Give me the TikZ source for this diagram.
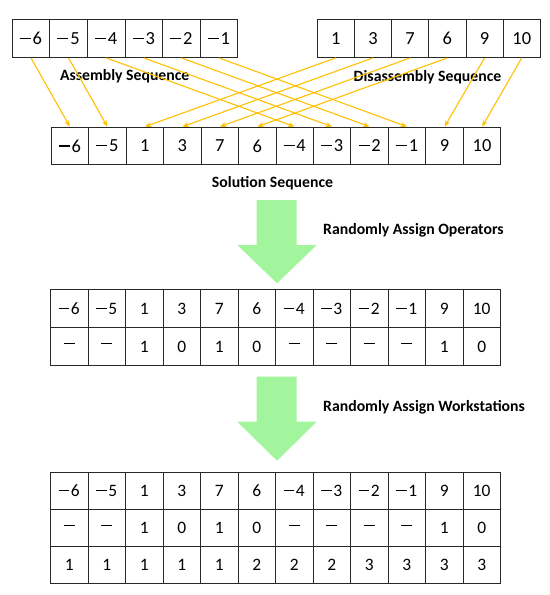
\documentclass[tikz,border=0pt]{standalone}
\usepackage{fontspec}
\setmainfont{Carlito}
\usetikzlibrary{arrows.meta}
\definecolor{gold}{RGB}{255,192,0}
\definecolor{lgreen}{RGB}{163,245,157}
\definecolor{cellline}{RGB}{40,40,40}
\newcommand\mn{\rule[0.3em]{0.6em}{0.065em}\kern0.1em}
\newcommand\dsh{\rule[0.3em]{0.64em}{0.065em}}
\tikzset{
  cellA/.style={draw=cellline,line width=0.9bp,minimum width=37.6bp,minimum height=38bp,inner sep=0,anchor=north west,font=\fontsize{18.5}{20}\selectfont},
  cellD/.style={cellA,minimum width=37.2bp},
  cellS/.style={cellA,minimum width=37.47bp,minimum height=37.6bp},
  cellM/.style={cellA,minimum width=37.5bp,minimum height=37.85bp,font=\fontsize{17.5}{19}\selectfont},
  cellB/.style={cellM,minimum height=37.2bp},
  lbl/.style={inner sep=0,font=\fontsize{15.8}{18}\bfseries\selectfont},
  link/.style={draw=gold,line width=1.1bp,-{Stealth[length=6.5bp,width=5bp]}},
  bigarrow/.style={fill=lgreen,draw=none}
}
\begin{document}
\begin{tikzpicture}[x=1bp,y=-1bp]
\useasboundingbox (0,0) rectangle (550,595);
% top arrays
\foreach \v [count=\i] in {\mn6,\mn5,\mn4,\mn3,\mn2,\mn1}
  \node[cellA] (a\i) at ({11.7+37.6*(\i-1)},19) {\v};
\foreach \v [count=\i] in {1,3,7,6,9,10}
  \node[cellD] (d\i) at ({316.7+37.2*(\i-1)},19) {\v};
% solution sequence
\foreach \v [count=\i] in {\mn6,\mn5,1,3,7,6,\mn4,\mn3,\mn2,\mn1,9,10}
  \node[cellS] (s\i) at ({50.7+37.47*(\i-1)},126.7) {\v};
\node[lbl] (la) at (124.7,76.7) {Assembly Sequence};
\node[lbl] (ld) at (427.5,77) {Disassembly Sequence};
\node[lbl] (ls) at (272.5,183.3) {Solution Sequence};
% links
\draw[link] (a1.south) -- (s1.north);
\draw[link] (a2.south) -- (s2.north);
\draw[link] (a3.south) -- (s7.north);
\draw[link] (a4.south) -- (s8.north);
\draw[link] (a5.south) -- (s9.north);
\draw[link] (a6.south) -- (s10.north);
\draw[link] (d1.south) -- (s3.north);
\draw[link] (d2.south) -- (s4.north);
\draw[link] (d3.south) -- (s5.north);
\draw[link] (d4.south) -- (s6.north);
\draw[link] (d5.south) -- (s11.north);
\draw[link] (d6.south) -- (s12.north);
% green arrow 1
\fill[bigarrow] (256.7,200) -- (296.7,200) -- (296.7,245) -- (316.7,245) -- (277,283.3) -- (237.3,245) -- (256.7,245) -- cycle;
\node[lbl,anchor=west] (lo) at (323,230) {Randomly Assign Operators};
% middle table
\foreach \v [count=\i] in {\mn6,\mn5,1,3,7,6,\mn4,\mn3,\mn2,\mn1,9,10}
  \node[cellM] (m\i) at ({50+37.5*(\i-1)},289.3) {\v};
\foreach \v [count=\i] in {\dsh,\dsh,1,0,1,0,\dsh,\dsh,\dsh,\dsh,1,0}
  \node[cellM] (n\i) at ({50+37.5*(\i-1)},327.15) {\v};
% green arrow 2
\fill[bigarrow] (256.7,376.7) -- (296.7,376.7) -- (296.7,421.7) -- (316.7,421.7) -- (277,460.7) -- (237.3,421.7) -- (256.7,421.7) -- cycle;
\node[lbl,anchor=west] (lw) at (323,407.3) {Randomly Assign Workstations};
% bottom table
\foreach \v [count=\i] in {\mn6,\mn5,1,3,7,6,\mn4,\mn3,\mn2,\mn1,9,10}
  \node[cellB] (b\i) at ({50+37.5*(\i-1)},471.7) {\v};
\foreach \v [count=\i] in {\dsh,\dsh,1,0,1,0,\dsh,\dsh,\dsh,\dsh,1,0}
  \node[cellB] (c\i) at ({50+37.5*(\i-1)},508.9) {\v};
\foreach \v [count=\i] in {1,1,1,1,1,2,2,2,3,3,3,3}
  \node[cellB] (e\i) at ({50+37.5*(\i-1)},546.1) {\v};
\end{tikzpicture}
\end{document}
